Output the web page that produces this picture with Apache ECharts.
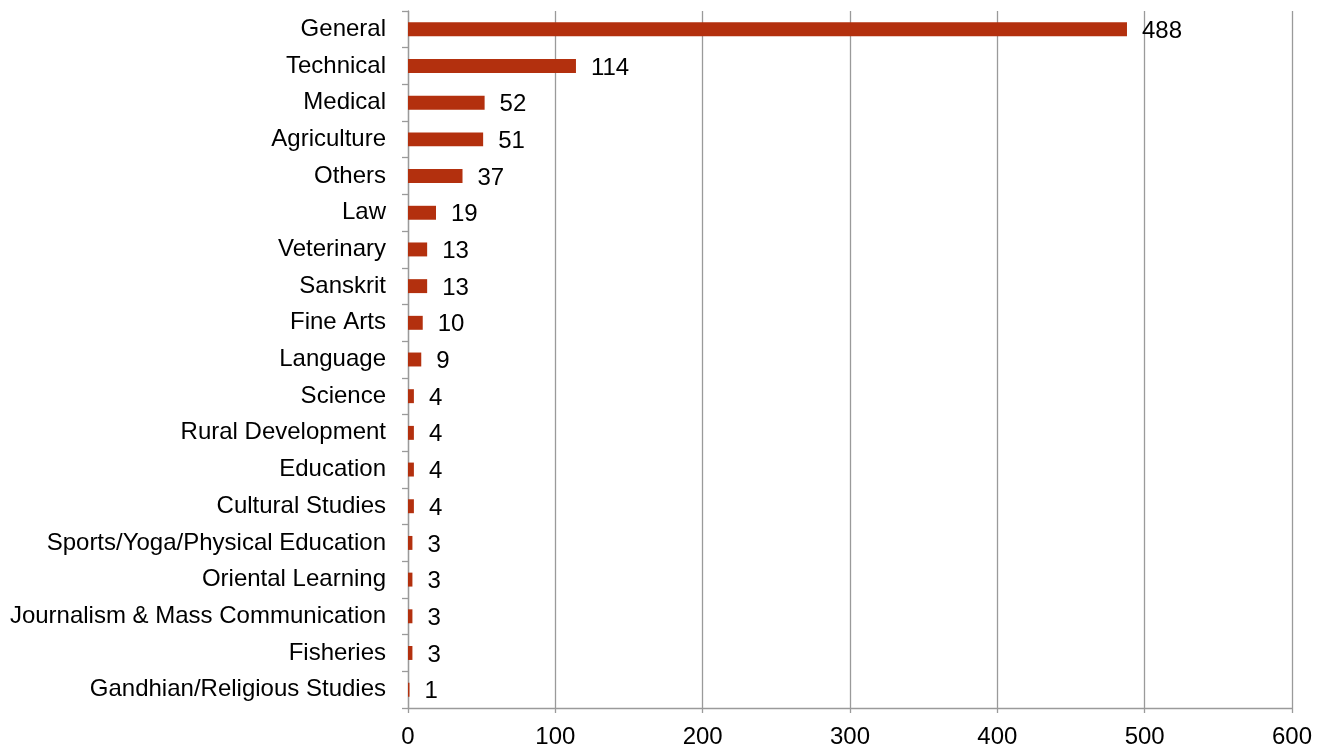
<!DOCTYPE html>
<html>
<head>
<meta charset="utf-8">
<script src="https://cdn.jsdelivr.net/npm/echarts@6/dist/echarts.min.js"></script>
<style>html,body{margin:0;padding:0;background:#fff}#c{width:1326px;height:749px}</style>
</head>
<body>
<div id="c"></div>
<script>
const categories = ["General","Technical","Medical","Agriculture","Others","Law","Veterinary","Sanskrit","Fine Arts","Language","Science","Rural Development","Education","Cultural Studies","Sports/Yoga/Physical Education","Oriental Learning","Journalism & Mass Communication","Fisheries","Gandhian/Religious Studies"];
const values = [488,114,52,51,37,19,13,13,10,9,4,4,4,4,3,3,3,3,1];
const xTicks = {min:0, max:600, interval:100};

const chart = echarts.init(document.getElementById('c'), null, {renderer:'canvas'});
const font = 'Liberation Sans, Arial, sans-serif';
chart.setOption({
  animation:false,
  grid:{left:408, right:34, top:11, bottom:41, containLabel:false},
  xAxis:{
    type:'value', min:xTicks.min, max:xTicks.max, interval:xTicks.interval,
    axisLine:{show:true, lineStyle:{color:'#9a9a9a', width:1.3}},
    axisTick:{show:true, length:5, lineStyle:{color:'#9a9a9a', width:1.3}},
    splitLine:{show:true, lineStyle:{color:'#9a9a9a', width:1.3}},
    axisLabel:{color:'#000', fontSize:24, fontFamily:font, margin:17}
  },
  yAxis:{
    type:'category', data:categories, inverse:true,
    axisLine:{show:true, lineStyle:{color:'#9a9a9a', width:1.3}},
    axisTick:{show:true, length:6, alignWithLabel:false, lineStyle:{color:'#9a9a9a', width:1.3}},
    axisLabel:{color:'#000', fontSize:24, fontFamily:font, margin:22}
  },
  series:[{
    type:'bar', data:values, barCategoryGap:'62%',
    itemStyle:{color:'#B3300E'},
    label:{show:true, position:'right', distance:15, offset:[0,2], color:'#000', fontSize:24, fontFamily:font}
  }]
});
</script>
</body>
</html>
